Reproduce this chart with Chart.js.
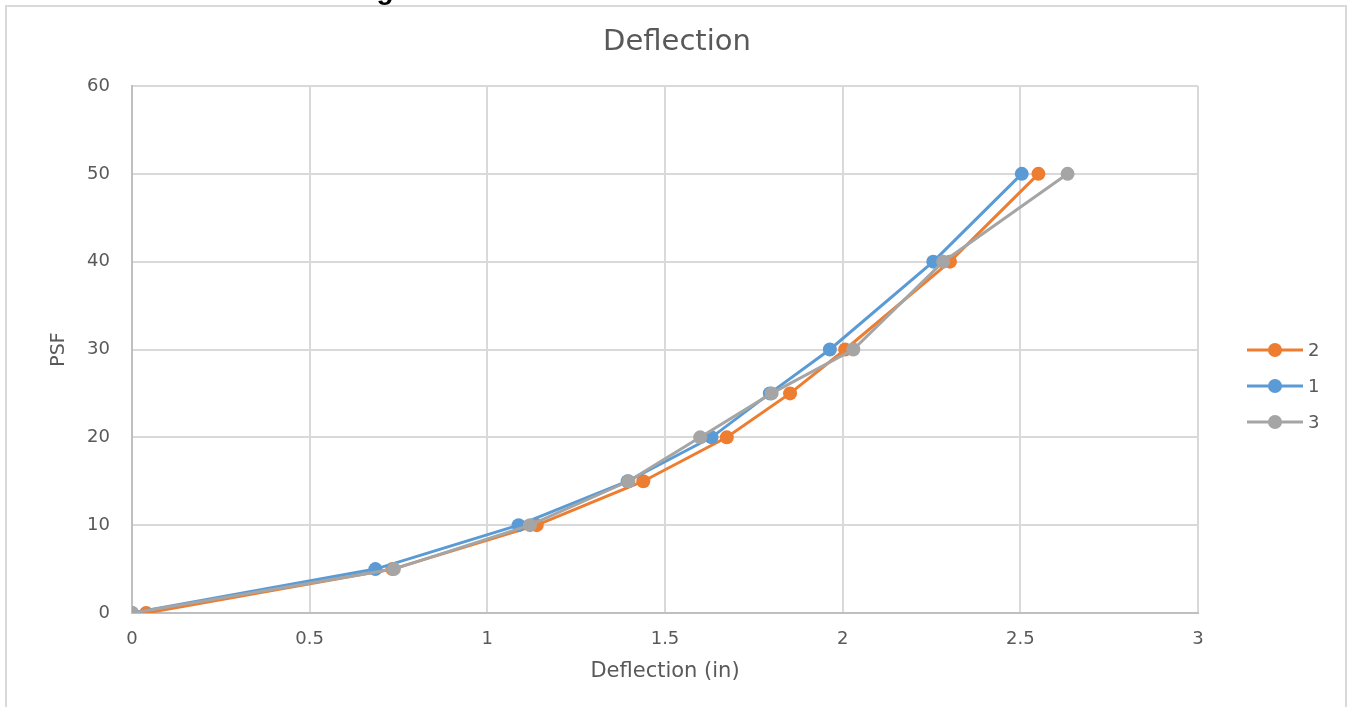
<!DOCTYPE html>
<html>
<head>
<meta charset="utf-8">
<script src="https://cdn.jsdelivr.net/npm/chart.js@4/dist/chart.umd.min.js"></script>
<style>
  html, body { margin: 0; padding: 0; background: #fff; }
  #wrap { width: 1350px; height: 707px; }
</style>
</head>
<body>
<div id="wrap"><canvas id="chart" width="1350" height="707"></canvas></div>
<script>
/* Load in PSF, deflection in inches, one array per specimen */
const psf = [0, 5, 10, 15, 20, 25, 30, 40, 50];
const deflection2 = [0.04, 0.733, 1.139, 1.439, 1.674, 1.852, 2.007, 2.302, 2.551];
const deflection1 = [0, 0.685, 1.088, 1.395, 1.631, 1.795, 1.964, 2.255, 2.504];
const deflection3 = [0, 0.737, 1.120, 1.397, 1.599, 1.800, 2.030, 2.283, 2.633];

const xTicks = [0, 0.5, 1, 1.5, 2, 2.5, 3];
const yTicks = [0, 10, 20, 30, 40, 50, 60];

const seriesNames = ['2', '1', '3'];
const seriesColors = ['#ED7D31', '#5B9BD5', '#A5A5A5'];
const seriesData = [deflection2, deflection1, deflection3];

const chartTitle = 'Deflection';
const textGray = '#595959';
const fontFamily = "'DejaVu Sans', 'Noto Sans', sans-serif";

function points(xs) {
  return xs.map(function(x, i) { return {x: x, y: psf[i]}; });
}

/* Frame, title, clipped heading above it and the Excel style legend */
const extras = {
  id: 'extras',
  afterDraw(chart) {
    const ctx = chart.ctx;
    ctx.save();
    ctx.strokeStyle = '#d9d9d9';
    ctx.lineWidth = 2;
    ctx.strokeRect(6, 6, 1340, 800);

    ctx.fillStyle = '#000';
    ctx.font = "bold 28px 'Liberation Sans', Arial, sans-serif";
    ctx.textAlign = 'center';
    ctx.textBaseline = 'alphabetic';
    ctx.fillText('g', 385, -1);

    /* title centred on the whole frame, not the plot */
    ctx.fillStyle = textGray;
    ctx.font = '29px ' + fontFamily;
    ctx.textBaseline = 'middle';
    ctx.fillText(chartTitle, 677, 42);

    ctx.font = '18px ' + fontFamily;
    ctx.textAlign = 'left';
    for (let i = 0; i < seriesNames.length; i++) {
      const y = 350 + i * 36;
      ctx.strokeStyle = seriesColors[i];
      ctx.lineWidth = 3;
      ctx.beginPath();
      ctx.moveTo(1247, y);
      ctx.lineTo(1303, y);
      ctx.stroke();
      ctx.fillStyle = seriesColors[i];
      ctx.beginPath();
      ctx.arc(1275, y, 7, 0, Math.PI * 2);
      ctx.fill();
      ctx.fillStyle = textGray;
      ctx.fillText(seriesNames[i], 1308, y + 1);
    }
    ctx.restore();
  }
};

const ctx = document.getElementById('chart');
new Chart(ctx, {
  type: 'scatter',
  data: {
    datasets: seriesNames.map(function(name, i) {
      return {
        label: name,
        data: points(seriesData[i]),
        showLine: true,
        borderColor: seriesColors[i],
        backgroundColor: seriesColors[i],
        borderWidth: 3,
        pointRadius: 7,
        pointHoverRadius: 7,
        pointBorderWidth: 0,
        tension: 0,
        order: seriesNames.length - i   /* later series painted on top, as in Excel */
      };
    })
  },
  options: {
    responsive: false,
    devicePixelRatio: 1,
    animation: false,
    layout: { padding: { left: 44, right: 152, top: 86, bottom: 19 } },
    plugins: {
      legend: { display: false },
      tooltip: { enabled: false },
      title: { display: false }
    },
    scales: {
      x: {
        type: 'linear',
        min: 0,
        max: 3,
        afterFit: function(scale) { scale.height = 75; },
        afterBuildTicks: function(scale) { scale.ticks = xTicks.map(function(v) { return {value: v}; }); },
        grid: { color: '#d9d9d9', lineWidth: 2, drawTicks: false },
        border: { color: '#bfbfbf', width: 2 },
        ticks: {
          color: textGray,
          padding: 16,
          font: { family: fontFamily, size: 18 },
          callback: function(v) { return String(v); }
        },
        title: {
          display: true,
          text: 'Deflection (in)',
          color: textGray,
          font: { family: fontFamily, size: 21 },
          padding: { top: 4, bottom: 4 }
        }
      },
      y: {
        type: 'linear',
        min: 0,
        max: 60,
        afterFit: function(scale) { scale.width = 88; },
        afterBuildTicks: function(scale) { scale.ticks = yTicks.map(function(v) { return {value: v}; }); },
        grid: { color: '#d9d9d9', lineWidth: 2, drawTicks: false },
        border: { color: '#bfbfbf', width: 2 },
        ticks: { color: textGray, padding: 22, font: { family: fontFamily, size: 18 } },
        title: {
          display: true,
          text: 'PSF',
          color: textGray,
          font: { family: fontFamily, size: 19 },
          padding: { top: 4, bottom: 4 }
        }
      }
    }
  },
  plugins: [extras]
});
</script>
</body>
</html>
